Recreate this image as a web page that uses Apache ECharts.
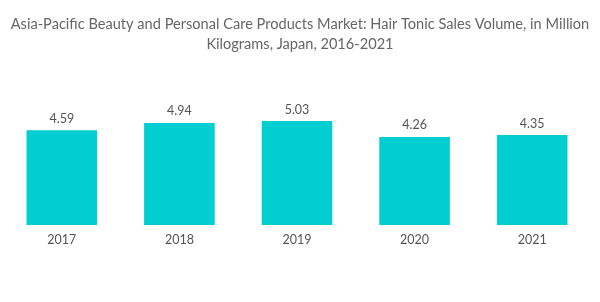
<!DOCTYPE html>
<html><head><meta charset="utf-8">
<script src="https://cdn.jsdelivr.net/npm/echarts@6/dist/echarts.min.js"></script>
<style>html,body{margin:0;padding:0;background:#fff}#c{width:600px;height:302px}</style>
</head><body><div id="c"></div>
<script>
var categories = ['2017','2018','2019','2020','2021'];
var values = [4.59, 4.94, 5.03, 4.26, 4.35];
var titleText = 'Asia-Pacific Beauty and Personal Care Products Market: Hair Tonic Sales Volume, in Million\nKilograms, Japan, 2016-2021';
var chart = echarts.init(document.getElementById('c'));
chart.setOption({
  animation: false,
  title: {text: titleText, left: 'center', top: 9, textStyle: {fontFamily: 'Lato', fontSize: 14.6, fontWeight: 'normal', color: '#666', lineHeight: 20}},
  grid: {left: 3, right: 9, top: 101, bottom: 77},
  xAxis: {type: 'category', data: categories, axisLine: {show: false}, axisTick: {show: false},
    axisLabel: {color: '#555', fontSize: 12.5, fontFamily: 'Lato', margin: 8}},
  yAxis: {type: 'value', min: 0, max: 6, show: false, splitLine: {show: false}},
  series: [{type: 'bar', data: values, barWidth: '60%', itemStyle: {color: '#00CED1'},
    label: {show: true, position: 'top', color: '#555', fontSize: 12.5, fontFamily: 'Lato', distance: 5}}]
});
</script></body></html>
